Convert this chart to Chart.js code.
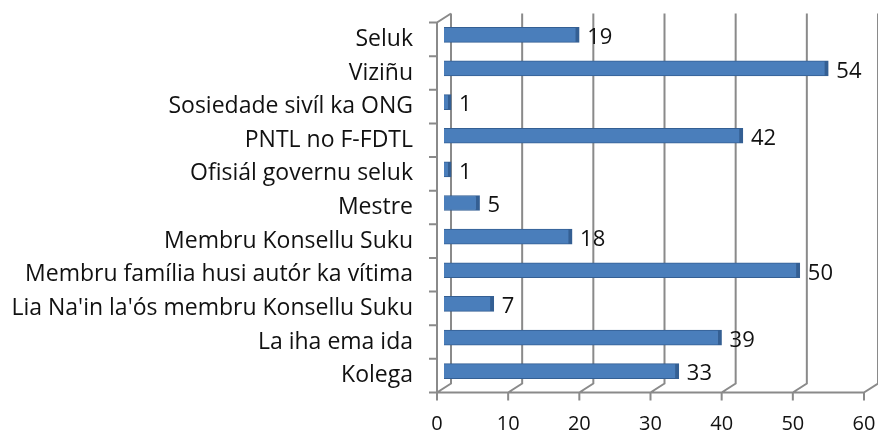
<!DOCTYPE html>
<html>
<head>
<meta charset="utf-8">
<script src="https://cdn.jsdelivr.net/npm/chart.js@4"></script>
<style>
  body { margin: 0; background: #fff; }
  #wrap { width: 878px; height: 432px; position: relative; }
</style>
</head>
<body>
<div id="wrap"><canvas id="chart"></canvas></div>
<script>
// categories, top to bottom as in the picture
const categories = [
  'Seluk',
  'Viziñu',
  'Sosiedade sivíl ka ONG',
  'PNTL no F-FDTL',
  'Ofisiál governu seluk',
  'Mestre',
  'Membru Konsellu Suku',
  'Membru família husi autór ka vítima',
  "Lia Na'in la'ós membru Konsellu Suku",
  'La iha ema ida',
  'Kolega'
];
const counts = [19, 54, 1, 42, 1, 5, 18, 50, 7, 39, 33];
const xTicks = [0, 10, 20, 30, 40, 50, 60];

const FONT = '"Open Sans", sans-serif';
const DX = 7, DY = 4.5; // fake 3D depth

// back wall, floor and left wall like the excel 3d chart
const wallsPlugin = {
  id: 'walls',
  beforeDatasetsDraw(chart) {
    const { ctx, chartArea: a, scales } = chart;
    const x = scales.x;
    ctx.save();
    ctx.strokeStyle = '#8a8a8a';
    ctx.lineWidth = 2;
    ctx.beginPath();
    xTicks.forEach(v => {
      const px = x.getPixelForValue(v);
      ctx.moveTo(px + DX, a.top - DY);
      ctx.lineTo(px + DX, a.bottom - DY);
      ctx.lineTo(px - DX, a.bottom + DY);
      ctx.lineTo(px - DX, a.bottom + DY + 8);
    });
    // front floor edge
    ctx.moveTo(a.left - DX, a.bottom + DY);
    ctx.lineTo(x.getPixelForValue(60) - DX, a.bottom + DY);
    // left wall
    ctx.moveTo(a.left - DX, a.bottom + DY);
    ctx.lineTo(a.left - DX, a.top + DY);
    ctx.lineTo(a.left + DX, a.top - DY);
    // category ticks
    const step = (a.bottom - a.top) / categories.length;
    for (let i = 0; i <= categories.length; i++) {
      const yb = a.top + DY + step * i;
      ctx.moveTo(a.left - DX - 8, yb);
      ctx.lineTo(a.left - DX, yb);
    }
    ctx.stroke();
    ctx.restore();
  },
  afterDatasetsDraw(chart) {
    const { ctx } = chart;
    const meta = chart.getDatasetMeta(0);
    ctx.save();
    ctx.font = '22px ' + FONT;
    ctx.fillStyle = '#111';
    ctx.textBaseline = 'middle';
    ctx.textAlign = 'left';
    meta.data.forEach((bar, i) => {
      ctx.fillText(String(counts[i]), bar.x + 8, bar.y + 3);
    });
    ctx.restore();
  }
};

new Chart(document.getElementById('chart'), {
  type: 'bar',
  data: {
    labels: categories,
    datasets: [{
      data: counts,
      backgroundColor: '#4a7ebb',
      borderColor: '#345f93',
      borderWidth: { top: 1, bottom: 1, left: 0, right: 4 },
      borderSkipped: false,
      barThickness: 15
    }]
  },
  options: {
    indexAxis: 'y',
    responsive: true,
    maintainAspectRatio: false,
    animation: false,
    layout: { padding: { top: 18, right: 7, bottom: 0, left: 0 } },
    plugins: {
      legend: { display: false },
      tooltip: { enabled: false }
    },
    scales: {
      x: {
        min: 0,
        max: 60,
        afterFit: s => { s.height = 44; s.paddingLeft = 0; s.paddingRight = 0; },
        afterBuildTicks: s => { s.ticks = xTicks.map(v => ({ value: v })); },
        grid: { display: false, drawTicks: false },
        border: { display: false },
        ticks: {
          padding: 24,
          labelOffset: -DX,
          color: '#111',
          font: { family: FONT, size: 20 }
        }
      },
      y: {
        afterFit: s => { s.width = 444; s.paddingTop = 0; s.paddingBottom = 0; },
        grid: { display: false, drawTicks: false },
        border: { display: false },
        ticks: {
          padding: 31,
          labelOffset: DY,
          color: '#111',
          font: { family: FONT, size: 23 }
        }
      }
    }
  },
  plugins: [wallsPlugin]
});
</script>
</body>
</html>
